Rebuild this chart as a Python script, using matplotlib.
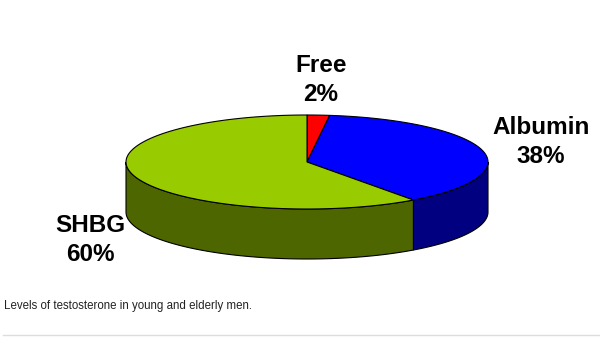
import numpy as np
import matplotlib.pyplot as plt
from matplotlib.patches import Polygon

labels = ['Free', 'Albumin', 'SHBG']
shares = [2, 38, 60]
top_colors = ['#ff0000', '#0000ff', '#99cc00']
side_colors = ['#800000', '#000080', '#4d6600']

# pie geometry in pixel units
cx, cy = 307, 162
a, b = 181, 47
depth = 50


def rim(t1, t2, dy=0, n=120):
    t = np.radians(np.linspace(t1, t2, n))
    return np.column_stack([cx + a * np.sin(t), cy - b * np.cos(t) + dy])


fig = plt.figure(figsize=(6, 3.38), dpi=100)
ax = fig.add_axes([0, 0, 1, 1])
ax.set_xlim(0, 600)
ax.set_ylim(338, 0)
ax.axis('off')

edges = np.concatenate([[0], np.cumsum(shares)]) * 3.6

# side walls (front half only: 90..270 deg)
for i in range(len(shares)):
    t1, t2 = max(edges[i], 90), min(edges[i + 1], 270)
    if t2 <= t1:
        continue
    pts = np.vstack([rim(t1, t2), rim(t1, t2, depth)[::-1]])
    ax.add_patch(Polygon(pts, closed=True, facecolor=side_colors[i],
                         edgecolor='black', lw=0.8))

# top face
for i in range(len(shares)):
    pts = np.vstack([[cx, cy], rim(edges[i], edges[i + 1])])
    ax.add_patch(Polygon(pts, closed=True, facecolor=top_colors[i],
                         edgecolor='black', lw=0.8))

lab_pos = [(321, 80), (541, 142), (90, 240)]
for (x, y), name, s in zip(lab_pos, labels, shares):
    ax.text(x, y, f'{name}\n{s}%', ha='center', va='center', fontsize=17.5,
            fontweight='bold', family='Liberation Sans', linespacing=1.3)

ax.text(4, 306, 'Levels of testosterone in young and elderly men.', fontsize=8.3,
        family='Liberation Sans', color='#222222', va='center')
ax.plot([3, 600], [335, 335], color='#dddddd', lw=1)

plt.savefig('out.png', dpi=100)
plt.close()
